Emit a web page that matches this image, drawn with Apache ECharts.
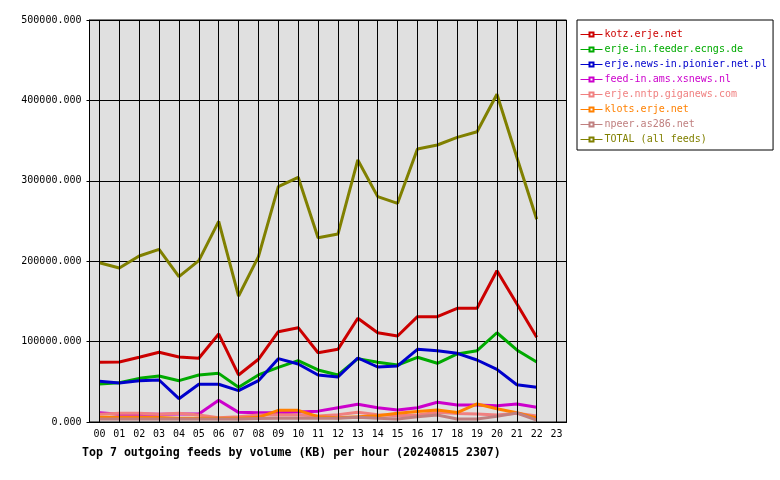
<!DOCTYPE html>
<html>
<head>
<meta charset="utf-8">
<script src="https://cdn.jsdelivr.net/npm/echarts@6/dist/echarts.min.js"></script>
<style>html,body{margin:0;padding:0;background:#fff}#c{width:780px;height:480px}</style>
</head>
<body>
<div id="c"></div>
<script>
const hours = ['00','01','02','03','04','05','06','07','08','09','10','11','12','13','14','15','16','17','18','19','20','21','22','23'];
const yTicks = [0, 100000, 200000, 300000, 400000, 500000];

const kotz = [74200,74600,80500,86700,80800,79200,109500,58500,78000,112300,117300,86200,90400,129000,111000,107000,131000,131000,141400,141400,188200,147000,105300];
const erjeIn = [47300,48900,54300,57200,51400,58500,60500,43200,58500,68000,76300,64700,58500,78800,74200,70900,80500,73000,84600,88700,111000,89600,74600];
const pionier = [50600,48500,51400,52200,29000,46900,46900,39000,51400,78800,72100,58500,56000,79600,68400,69700,90400,88700,85400,77100,65500,46400,43200];
const xsnews = [11500,9500,10000,9500,10000,10000,27000,12000,11500,11500,12500,13500,17800,22000,17800,14900,17800,24500,21100,21100,20300,22400,18300];
const giganews = [9500,10800,10800,9500,10800,8700,5400,6600,8700,9000,8700,7500,9000,12000,9000,7900,8700,12000,10500,10000,8700,10800,7500];
const klots = [5800,5800,5800,5500,4600,4600,4600,4600,5800,14500,14500,6600,5400,6600,7900,10800,13200,14900,11800,22400,16500,11500,5000];
const npeer = [3700,3700,3700,3700,3700,3700,3700,3700,4200,4600,4600,4600,4600,5800,4600,3700,6600,8700,3700,3700,7000,11200,2500];
const total = [198100,191500,206500,214800,180800,200700,249600,156700,205600,292700,304300,229200,233800,325900,280300,272000,339600,344500,354000,361000,407600,329200,252100];

const names = ['kotz.erje.net','erje-in.feeder.ecngs.de','erje.news-in.pionier.net.pl','feed-in.ams.xsnews.nl','erje.nntp.giganews.com','klots.erje.net','npeer.as286.net','TOTAL (all feeds)'];
const colors = ['#cc0000','#00aa00','#0000cc','#cc00cc','#f08080','#ff8000','#c08080','#808000'];
const values = [kotz, erjeIn, pionier, xsnews, giganews, klots, npeer, total];

const FONT = 'DejaVu Sans Mono';
const chart = echarts.init(document.getElementById('c'), null, {renderer: 'canvas'});

const series = names.map((n, i) => ({
  name: n, type: 'line', data: values[i], xAxisIndex: 0,
  color: colors[i],
  symbol: 'emptyRect', symbolSize: 4, showSymbol: false,
  lineStyle: {width: 3, color: colors[i]},
  itemStyle: {color: colors[i], borderColor: colors[i], borderWidth: 1},
  emphasis: {disabled: true}
}));
// vertical grid lines at every hour
series.unshift({
  name: '__grid', type: 'line', data: [], z: 1, silent: true,
  markLine: {
    silent: true, symbol: ['none', 'none'], animation: false,
    label: {show: false},
    lineStyle: {color: '#000', width: 1, type: 'solid'},
    emphasis: {disabled: true},
    data: hours.map(h => ({xAxis: h}))
  }
});

chart.setOption({
  animation: false,
  backgroundColor: '#ffffff',
  textStyle: {fontFamily: FONT},
  title: {
    text: 'Top 7 outgoing feeds by volume (KB) per hour (20240815 2307)',
    left: 77, top: 442,
    textStyle: {fontFamily: FONT, fontSize: 11.6, fontWeight: 'bold', color: '#000'}
  },
  legend: {
    orient: 'vertical',
    left: 577, top: 20,
    padding: [7, 6, 3, 3],
    borderColor: '#000', borderWidth: 1,
    itemWidth: 22, itemHeight: 5, itemGap: 0,
    lineStyle: {width: 1},
    itemStyle: {borderWidth: 1},
    textStyle: {fontFamily: FONT, fontSize: 10, lineHeight: 15, padding: [0,0,0,-3]},
    data: names.map((n, i) => ({name: n, textStyle: {color: colors[i]}}))
  },
  grid: {
    left: 89.5, top: 20, width: 477, height: 402,
    show: true, backgroundColor: '#e0e0e0', borderColor: '#000', borderWidth: 1
  },
  xAxis: {
    type: 'category', data: hours, boundaryGap: true,
    axisLine: {lineStyle: {color: '#000', width: 1}},
    axisTick: {alignWithLabel: true, length: 3, lineStyle: {color: '#000'}},
    axisLabel: {color: '#000', fontFamily: FONT, fontSize: 10, margin: 7, interval: 0},
    splitLine: {show: false}
  },
  yAxis: {
    type: 'value', min: yTicks[0], max: yTicks[yTicks.length - 1], interval: 100000,
    axisLine: {show: true, lineStyle: {color: '#000'}},
    axisTick: {show: true, length: 3, lineStyle: {color: '#000'}},
    axisLabel: {color: '#000', fontFamily: FONT, fontSize: 10, margin: 8,
      formatter: v => v.toFixed(3)},
    splitLine: {show: true, lineStyle: {color: '#000', width: 1}}
  },
  series: series
});
</script>
</body>
</html>
